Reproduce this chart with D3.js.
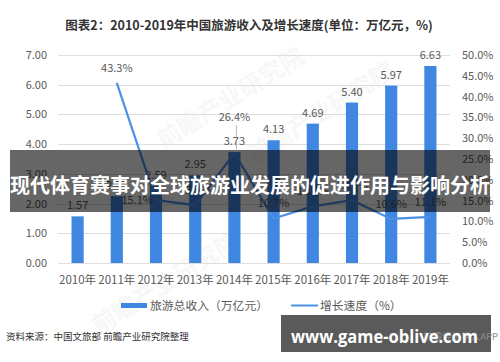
<!DOCTYPE html>
<html>
<head>
<meta charset="utf-8">
<script src="https://cdn.jsdelivr.net/npm/d3@7"></script>
<style>
  html, body { margin: 0; padding: 0; background: #fff; }
  svg { display: block; font-family: "Noto Sans CJK SC", "Noto Sans", sans-serif; }
</style>
</head>
<body>
<div id="chart"></div>
<script>
// chart data
var years = ['2010年', '2011年', '2012年', '2013年', '2014年', '2015年', '2016年', '2017年', '2018年', '2019年'];
var revenue = [1.57, 2.25, 2.59, 2.95, 3.73, 4.13, 4.69, 5.40, 5.97, 6.63];
var growth = [null, 43.3, 15.1, 13.9, 26.4, 10.7, 13.6, 15.1, 10.6, 11.1];
var leftTicks = [0, 1, 2, 3, 4, 5, 6, 7];
var rightTicks = [0, 5, 10, 15, 20, 25, 30, 35, 40, 45, 50];

var W = 500, H = 362;
var barColor = '#3f87e0';
var lineColor = '#4b91e6';
var textColor = '#595959';

var svg = d3.select('#chart').append('svg')
  .attr('width', W)
  .attr('height', H);

var x = d3.scaleBand()
  .domain(years)
  .range([58, 450])
  .paddingInner(0.69)
  .paddingOuter(0.345);
var yL = d3.scaleLinear().domain([0, 7]).range([263, 55]);
var yR = d3.scaleLinear().domain([0, 50]).range([263, 55]);

function cx(d) {
  return x(d) + x.bandwidth() / 2;
}

// faint watermarks
var marks = [[235, 105], [325, 120], [170, 290]];
svg.append('g').selectAll('text')
  .data(marks)
  .enter()
  .append('text')
  .attr('transform', function (d) {
    return 'translate(' + d[0] + ',' + d[1] + ') rotate(-32)';
  })
  .attr('text-anchor', 'middle')
  .attr('font-size', 24)
  .attr('font-weight', 'bold')
  .attr('fill', '#000')
  .attr('opacity', 0.028)
  .text('前瞻产业研究院');

// title
svg.append('text')
  .attr('x', 249)
  .attr('y', 30)
  .attr('text-anchor', 'middle')
  .attr('font-size', 12.5)
  .attr('font-weight', 'bold')
  .attr('fill', '#333')
  .text('图表2：2010-2019年中国旅游收入及增长速度(单位：万亿元，%)');

// gridlines
svg.append('g').selectAll('line')
  .data(leftTicks)
  .enter()
  .append('line')
  .attr('x1', 58)
  .attr('x2', 450)
  .attr('y1', function (d) { return Math.round(yL(d)) + 0.5; })
  .attr('y2', function (d) { return Math.round(yL(d)) + 0.5; })
  .attr('stroke', '#dedede')
  .attr('stroke-width', 1);

// left axis labels
svg.append('g').selectAll('text')
  .data(leftTicks)
  .enter()
  .append('text')
  .attr('x', 47)
  .attr('y', function (d) { return yL(d) + 4; })
  .attr('text-anchor', 'end')
  .attr('font-size', 11)
  .attr('fill', textColor)
  .text(function (d) { return d3.format('.2f')(d); });

// right axis labels
svg.append('g').selectAll('text')
  .data(rightTicks)
  .enter()
  .append('text')
  .attr('x', 462)
  .attr('y', function (d) { return yR(d) + 4; })
  .attr('text-anchor', 'start')
  .attr('font-size', 11)
  .attr('fill', textColor)
  .text(function (d) { return d3.format('.1f')(d) + '%'; });

// x labels
svg.append('g').selectAll('text')
  .data(years)
  .enter()
  .append('text')
  .attr('x', cx)
  .attr('y', 284)
  .attr('text-anchor', 'middle')
  .attr('font-size', 11.5)
  .attr('fill', textColor)
  .text(function (d) { return d; });

// bars
var rows = years.map(function (y, i) {
  return { year: y, rev: revenue[i], g: growth[i] };
});

svg.append('g').selectAll('rect')
  .data(rows)
  .enter()
  .append('rect')
  .attr('x', function (d) { return x(d.year); })
  .attr('y', function (d) { return yL(d.rev); })
  .attr('width', x.bandwidth())
  .attr('height', function (d) { return yL(0) - yL(d.rev); })
  .attr('fill', barColor);

svg.append('g').selectAll('text')
  .data(rows)
  .enter()
  .append('text')
  .attr('x', function (d) { return cx(d.year); })
  .attr('y', function (d) { return yL(d.rev) - 7; })
  .attr('text-anchor', 'middle')
  .attr('font-size', 11)
  .attr('fill', textColor)
  .text(function (d) { return d3.format('.2f')(d.rev); });

// growth line
var pts = rows.filter(function (d) { return d.g !== null; });
var line = d3.line()
  .x(function (d) { return cx(d.year); })
  .y(function (d) { return yR(d.g); });

svg.append('path')
  .datum(pts)
  .attr('d', line)
  .attr('fill', 'none')
  .attr('stroke', lineColor)
  .attr('stroke-width', 2.2)
  .attr('stroke-linejoin', 'round');

// 2014 label sits higher with a leader, 2012 label to the left of its point
svg.append('g').selectAll('text')
  .data(pts)
  .enter()
  .append('text')
  .attr('font-size', 11)
  .attr('fill', textColor)
  .attr('text-anchor', function (d) { return d.year === '2012年' ? 'end' : 'middle'; })
  .attr('x', function (d) {
    if (d.year === '2012年') return cx(d.year) - 3;
    return cx(d.year);
  })
  .attr('y', function (d) {
    if (d.year === '2014年') return yR(d.g) - 32;
    if (d.year === '2012年') return yR(d.g) + 4;
    return yR(d.g) - 11;
  })
  .text(function (d) { return d3.format('.1f')(d.g) + '%'; });

var p14 = pts.filter(function (d) { return d.year === '2014年'; })[0];
svg.append('line')
  .attr('x1', cx(p14.year) + 2)
  .attr('x2', cx(p14.year) + 2)
  .attr('y1', yR(p14.g) - 28)
  .attr('y2', yR(p14.g) - 4)
  .attr('stroke', '#a6a6a6')
  .attr('stroke-width', 0.8);

// legend
var lg = svg.append('g');
lg.append('rect')
  .attr('x', 121).attr('y', 303)
  .attr('width', 26).attr('height', 5)
  .attr('fill', barColor);
lg.append('text')
  .attr('x', 150).attr('y', 310)
  .attr('font-size', 11.8)
  .attr('fill', textColor)
  .text('旅游总收入（万亿元）');
lg.append('line')
  .attr('x1', 291).attr('x2', 318)
  .attr('y1', 305.5).attr('y2', 305.5)
  .attr('stroke', lineColor)
  .attr('stroke-width', 2);
lg.append('text')
  .attr('x', 320).attr('y', 310)
  .attr('font-size', 11.8)
  .attr('fill', textColor)
  .text('增长速度（%）');

// source line
svg.append('text')
  .attr('x', 6).attr('y', 340)
  .attr('font-size', 9.5)
  .attr('fill', '#333')
  .text('资料来源：中国文旅部 前瞻产业研究院整理');

// overlay band with headline
svg.append('rect')
  .attr('x', 10).attr('y', 150)
  .attr('width', 480).attr('height', 62)
  .attr('fill', '#000')
  .attr('fill-opacity', 0.6);
svg.append('text')
  .attr('x', 250).attr('y', 193)
  .attr('text-anchor', 'middle')
  .attr('font-size', 20)
  .attr('font-weight', 'bold')
  .attr('fill', '#fff')
  .attr('textLength', 480)
  .attr('lengthAdjust', 'spacingAndGlyphs')
  .text('现代体育赛事对全球旅游业发展的促进作用与影响分析');

// bottom-right url box
svg.append('rect')
  .attr('x', 281).attr('y', 315)
  .attr('width', 210).attr('height', 37)
  .attr('fill', '#5a5a5a');
svg.append('text')
  .attr('x', 498).attr('y', 340)
  .attr('text-anchor', 'end')
  .attr('font-size', 9.5)
  .attr('fill', '#8c8c8c')
  .text('前瞻经济学人APP');
svg.append('text')
  .attr('x', 291).attr('y', 343)
  .attr('font-size', 17)
  .attr('font-weight', 'bold')
  .attr('fill', '#fff')
  .attr('font-family', '"Open Sans", "Liberation Sans", sans-serif')
  .attr('textLength', 187)
  .attr('lengthAdjust', 'spacingAndGlyphs')
  .text('www.game-oblive.com');
</script>
</body>
</html>
